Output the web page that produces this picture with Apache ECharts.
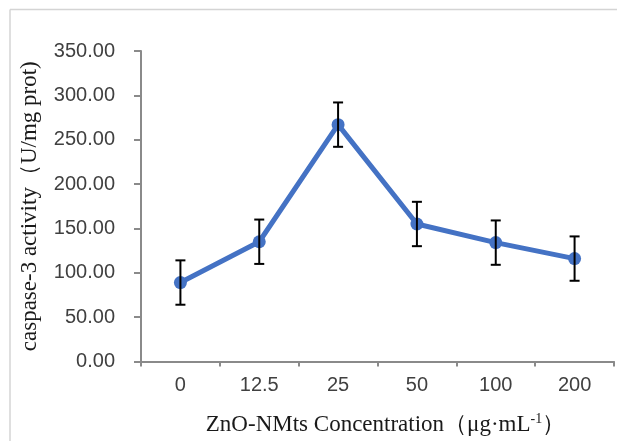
<!DOCTYPE html>
<html>
<head>
<meta charset="utf-8">
<script src="https://cdn.jsdelivr.net/npm/echarts@6/dist/echarts.min.js"></script>
<style>
html,body{margin:0;padding:0;background:#fff;}
#chart{width:617px;height:441px;}
</style>
</head>
<body>
<div id="chart"></div>
<script>
var categories = ['0', '12.5', '25', '50', '100', '200'];
var meanValues = [89, 135, 267, 155, 134, 116];
var errorValues = [25, 25, 25, 25, 25, 25];
var yTicks = [0, 50, 100, 150, 200, 250, 300, 350];

var errorData = categories.map(function (c, i) {
  return [i, meanValues[i] - errorValues[i], meanValues[i] + errorValues[i]];
});

var chart = echarts.init(document.getElementById('chart'), null, {renderer: 'canvas'});
chart.setOption({
  animation: false,
  backgroundColor: '#ffffff',
  graphic: [
    {type: 'line', shape: {x1: 10, y1: 9.5, x2: 617, y2: 9.5}, style: {stroke: '#d4d4d4', lineWidth: 1.5}},
    {type: 'line', shape: {x1: 10, y1: 9.5, x2: 10, y2: 441}, style: {stroke: '#d4d4d4', lineWidth: 1.5}}
  ],
  grid: {left: 141, right: 3, top: 51, bottom: 75, containLabel: false},
  xAxis: {
    type: 'category',
    data: categories,
    boundaryGap: true,
    axisLine: {lineStyle: {color: '#8a8a8a', width: 2}},
    axisTick: {show: true, alignWithLabel: false, length: 5, lineStyle: {color: '#8a8a8a', width: 2}},
    axisLabel: {color: '#404040', fontSize: 20, fontFamily: 'Liberation Sans, Arial, sans-serif', margin: 14},
    name: 'ZnO-NMts Concentration（μg·mL{sup|-1}）',
    nameLocation: 'middle',
    nameGap: 51,
    nameTextStyle: {
      color: '#1a1a1a', fontSize: 23, fontFamily: 'Liberation Serif, Times New Roman, serif',
      padding: [0, 0, 0, 16],
      rich: {sup: {fontSize: 14, verticalAlign: 'top', padding: [0, 0, 10, 0], fontFamily: 'Liberation Serif, serif', color: '#1a1a1a'}}
    }
  },
  yAxis: {
    type: 'value',
    min: 0,
    max: 350,
    interval: 50,
    axisLine: {show: true, lineStyle: {color: '#8a8a8a', width: 2}},
    axisTick: {show: true, length: 7, lineStyle: {color: '#8a8a8a', width: 2}},
    splitLine: {show: false},
    axisLabel: {
      color: '#404040', fontSize: 20, fontFamily: 'Liberation Sans, Arial, sans-serif', margin: 26,
      formatter: function (v) { return yTicks.indexOf(v) >= 0 ? v.toFixed(2) : ''; }
    },
    name: 'caspase-3 activity（U/mg prot)',
    nameLocation: 'middle',
    nameGap: 100,
    nameRotate: 90,
    nameTextStyle: {color: '#1a1a1a', fontSize: 23, fontFamily: 'Liberation Serif, Times New Roman, serif'}
  },
  series: [
    {
      type: 'line',
      data: meanValues,
      symbol: 'circle',
      symbolSize: 13,
      lineStyle: {color: '#4472C4', width: 5},
      itemStyle: {color: '#4472C4'},
      z: 3
    },
    {
      type: 'custom',
      data: errorData,
      z: 4,
      renderItem: function (params, api) {
        var x = api.value(0);
        var lo = api.coord([x, api.value(1)]);
        var hi = api.coord([x, api.value(2)]);
        var hw = 5;
        var st = {stroke: '#000000', lineWidth: 2};
        return {
          type: 'group',
          children: [
            {type: 'line', shape: {x1: lo[0], y1: lo[1], x2: hi[0], y2: hi[1]}, style: st},
            {type: 'line', shape: {x1: lo[0] - hw, y1: lo[1], x2: lo[0] + hw, y2: lo[1]}, style: st},
            {type: 'line', shape: {x1: hi[0] - hw, y1: hi[1], x2: hi[0] + hw, y2: hi[1]}, style: st}
          ]
        };
      }
    }
  ]
});
</script>
</body>
</html>
